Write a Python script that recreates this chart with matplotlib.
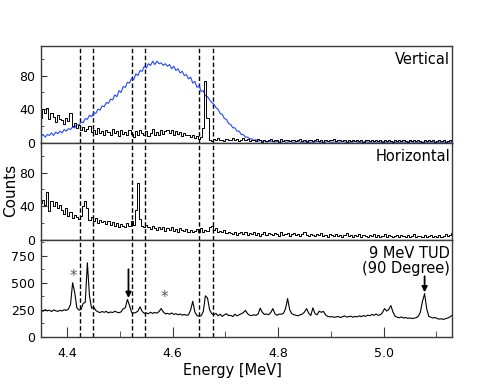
import numpy as np
import matplotlib
matplotlib.use("Agg")
import matplotlib.pyplot as plt
from matplotlib.ticker import MultipleLocator

# ---------------- data (bin centres start at 4.350 MeV, 4 keV bins) ----------------
energy_start = 4.350
bin_width = 0.004

vertical_blue = [
    8, 10, 7, 10, 9, 12, 9, 13, 11, 14,
    12, 16, 14, 17, 16, 19, 18, 22, 21, 25,
    24, 29, 28, 33, 31, 36, 35, 40, 39, 44,
    43, 48, 47, 52, 51, 57, 55, 62, 60, 67,
    66, 72, 71, 77, 75, 82, 80, 86, 85, 91,
    89, 94, 92, 97, 93, 97, 94, 95, 92, 94,
    91, 93, 88, 91, 86, 88, 83, 85, 80, 81,
    76, 78, 71, 73, 66, 68, 61, 62, 56, 55,
    51, 48, 46, 42, 40, 35, 34, 29, 28, 23,
    22, 18, 18, 14, 14, 10, 10, 7, 7, 5,
    5, 3, 4, 2, 3, 2, 3, 1, 2, 2,
    2, 1, 2, 1, 1, 2, 1, 1, 2, 1,
    1, 1, 2, 1, 1, 1, 2, 1, 1, 1,
    1, 2, 1, 1, 1, 1, 2, 1, 1, 1,
    1, 1, 1, 2, 1, 1, 1, 1, 1, 2,
    1, 1, 1, 1, 2, 1, 1, 1, 1, 1,
    1, 1, 2, 1, 1, 1, 1, 1, 1, 1,
    1, 1, 1, 1, 1, 2, 1, 1, 1, 1,
    1, 1, 1, 1, 1, 1, 1, 1, 1, 1,
    1, 1, 1, 1, 1, 1,
]

vertical_black = [
    30, 40, 35, 42, 28, 36, 31, 25, 33, 28,
    27, 22, 30, 26, 36, 20, 24, 18, 21, 16,
    19, 14, 17, 20, 13, 16, 11, 18, 12, 14,
    10, 15, 13, 9, 17, 12, 14, 8, 16, 11,
    13, 9, 15, 11, 7, 14, 10, 16, 12, 9,
    14, 8, 12, 17, 10, 13, 9, 15, 11, 14,
    16, 12, 15, 10, 14, 11, 13, 8, 12, 9,
    10, 7, 9, 6, 8, 5, 7, 18, 73, 30,
    4, 2, 5, 3, 6, 3, 4, 2, 5, 3,
    4, 6, 3, 5, 2, 4, 6, 3, 5, 2,
    3, 4, 2, 5, 3, 1, 4, 2, 3, 5,
    2, 4, 3, 1, 5, 2, 3, 4, 2, 3,
    4, 2, 3, 5, 2, 3, 1, 4, 3, 2,
    3, 5, 2, 4, 1, 3, 2, 4, 3, 5,
    2, 3, 4, 2, 3, 1, 4, 2, 3, 2,
    4, 2, 3, 1, 3, 4, 2, 3, 2, 4,
    2, 3, 1, 4, 2, 3, 2, 1, 3, 2,
    3, 2, 4, 2, 1, 3, 2, 4, 2, 3,
    2, 1, 3, 2, 4, 2, 3, 1, 2, 3,
    2, 3, 1, 2, 3, 2,
]

horizontal = [
    44, 48, 42, 57, 34, 46, 40, 45, 38, 42,
    35, 31, 38, 28, 33, 26, 30, 27, 25, 29,
    40, 46, 38, 24, 27, 22, 26, 20, 24, 21,
    23, 19, 22, 18, 21, 17, 20, 16, 19, 17,
    15, 20, 17, 22, 18, 36, 68, 25, 17, 16,
    18, 15, 13, 17, 14, 12, 16, 13, 15, 11,
    14, 12, 15, 11, 13, 10, 14, 12, 11, 13,
    10, 12, 9, 11, 13, 10, 14, 9, 12, 11,
    15, 17, 12, 14, 10, 11, 9, 12, 8, 10,
    8, 7, 9, 6, 8, 10, 7, 9, 6, 8,
    7, 9, 6, 8, 5, 7, 9, 6, 8, 7,
    6, 8, 7, 5, 9, 6, 7, 8, 5, 7,
    8, 6, 7, 5, 7, 9, 6, 5, 7, 6,
    5, 7, 6, 8, 5, 6, 4, 7, 6, 5,
    7, 5, 6, 4, 6, 8, 5, 6, 4, 6,
    5, 7, 4, 6, 5, 3, 6, 5, 7, 4,
    6, 4, 5, 7, 4, 6, 5, 3, 5, 6,
    4, 6, 5, 3, 6, 4, 5, 7, 4, 5,
    5, 3, 6, 4, 5, 6, 3, 5, 4, 6,
    4, 5, 7, 5, 6, 8,
]

tud = [
    245, 238, 252, 241, 248, 235, 250, 242, 236, 246,
    240, 252, 245, 258, 300, 500, 410, 270, 248, 255,
    310, 320, 685, 380, 265, 278, 245, 232, 226, 235,
    228, 236, 222, 231, 225, 238, 229, 224, 232, 260,
    270, 346, 290, 228, 220, 226, 240, 278, 236, 218,
    222, 215, 228, 218, 226, 220, 235, 263, 232, 214,
    218, 210, 222, 208, 215, 205, 212, 202, 208, 200,
    205, 250, 330, 230, 198, 192, 196, 235, 380, 360,
    250, 215, 205, 218, 196, 210, 190, 205, 215, 198,
    200, 188, 210, 195, 205, 215, 225, 246, 215, 200,
    198, 205, 200, 212, 266, 228, 208, 212, 206, 225,
    262, 215, 200, 212, 210, 218, 260, 355, 250, 215,
    205, 200, 196, 205, 212, 230, 262, 220, 198, 269,
    215, 205, 238, 228, 236, 205, 190, 186, 188, 182,
    185, 190, 180, 186, 195, 184, 188, 192, 182, 190,
    186, 195, 188, 198, 190, 202, 196, 208, 200, 212,
    200, 205, 225, 262, 240, 255, 290, 230, 192, 182,
    178, 185, 175, 180, 172, 176, 170, 174, 178, 190,
    230, 330, 400, 260, 190, 182, 175, 180, 170, 165,
    168, 162, 170, 175, 185, 200,
]

dashed_lines = [4.424, 4.449, 4.523, 4.548, 4.649, 4.676]
panel_labels = ["Vertical", "Horizontal", "9 MeV TUD\n(90 Degree)"]
star_marks = [(4.412, 560), (4.584, 362)]
arrow_marks = [(4.516, 625, 360), (5.078, 560, 412)]

energy = energy_start + bin_width * np.arange(len(tud))

# ---------------- figure ----------------
plt.rcParams["font.family"] = ["DejaVu Sans"]
fig = plt.figure(figsize=(4.9, 3.89), dpi=100)
W, H = 490.0, 389.0
left = 41 / W
width = (452 - 41) / W
ph = 97 / H
ax_top = fig.add_axes([left, 1 - 143 / H, width, ph])
ax_mid = fig.add_axes([left, 1 - 240 / H, width, ph])
ax_bot = fig.add_axes([left, 1 - 337 / H, width, ph])
axes = [ax_top, ax_mid, ax_bot]

xlim = (4.35, 5.13)
spine_col = "#3a3a3a"

ax_top.plot(energy, vertical_blue, color="#2346ff", lw=0.8)
ax_top.plot(energy, vertical_black, drawstyle="steps-mid", color="black", lw=0.7)
ax_mid.plot(energy, horizontal, drawstyle="steps-mid", color="black", lw=0.7)
ax_bot.plot(energy, tud, color="black", lw=0.8)

ax_top.set_ylim(0, 115)
ax_mid.set_ylim(0, 115)
ax_bot.set_ylim(0, 895)

for ax, lab in zip(axes, panel_labels):
    ax.set_xlim(*xlim)
    for xv in dashed_lines:
        ax.axvline(xv, color="black", lw=1.0, linestyle=(0, (3.2, 1.8)), zorder=1)
    for s in ax.spines.values():
        s.set_color(spine_col)
        s.set_linewidth(1.0)
    ax.tick_params(axis="y", which="both", direction="in", left=True, right=False,
                   labelsize=9, pad=4, color=spine_col)
    ax.tick_params(axis="y", which="major", length=4)
    ax.tick_params(axis="y", which="minor", length=2.5)
    ax.annotate(lab, xy=(1, 1), xycoords="axes fraction", xytext=(-1.5, -4),
                textcoords="offset points", ha="right", va="top", fontsize=10.5,
                linespacing=1.05)

for ax in (ax_top, ax_mid):
    ax.yaxis.set_major_locator(MultipleLocator(40))
    ax.yaxis.set_minor_locator(MultipleLocator(20))
    ax.tick_params(axis="x", which="both", bottom=False, top=False, labelbottom=False)

ax_bot.yaxis.set_major_locator(MultipleLocator(250))
ax_bot.yaxis.set_minor_locator(MultipleLocator(125))
ax_bot.xaxis.set_major_locator(MultipleLocator(0.2))
ax_bot.xaxis.set_minor_locator(MultipleLocator(0.1))
ax_bot.tick_params(axis="x", which="both", direction="in", top=False, labelsize=9,
                   pad=7, color=spine_col)
ax_bot.tick_params(axis="x", which="major", length=7)
ax_bot.tick_params(axis="x", which="minor", length=4)

for xs, ys in star_marks:
    ax_bot.text(xs, ys, "*", ha="center", va="center", fontsize=11, color="#555555")
for xa, y0, y1 in arrow_marks:
    ax_bot.annotate("", xy=(xa, y1), xytext=(xa, y0),
                    arrowprops=dict(arrowstyle="-|>", color="black", lw=1.3,
                                    mutation_scale=8, shrinkA=0, shrinkB=0))

fig.text(232 / W, 1 - 371 / H, "Energy [MeV]", ha="center", va="center", fontsize=10.5)
fig.text(11 / W, 1 - 190 / H, "Counts", ha="center", va="center", rotation=90,
         fontsize=11)

fig.savefig("out.png", dpi=100)
